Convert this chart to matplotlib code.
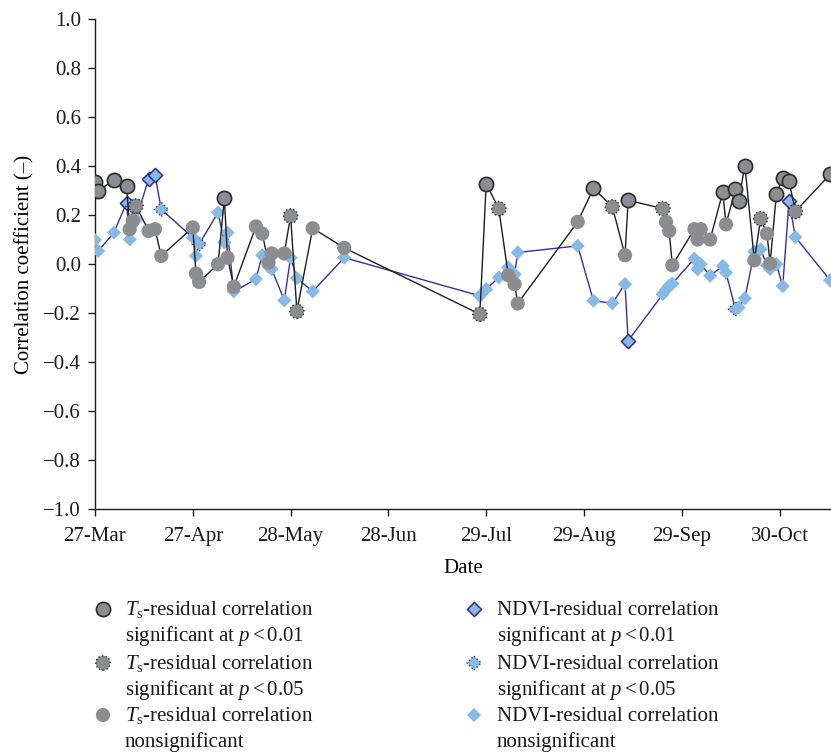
import numpy as np
import matplotlib
matplotlib.use("Agg")
import matplotlib.pyplot as plt
import matplotlib.dates as mdates
from matplotlib.ticker import FixedLocator, FuncFormatter

plt.rcParams["font.family"] = ["Liberation Serif", "DejaVu Serif"]
plt.rcParams["mathtext.fontset"] = "custom"
plt.rcParams["mathtext.rm"] = "Liberation Serif"
plt.rcParams["mathtext.it"] = "Liberation Serif:italic"

YEAR = 2015

# observation dates (month-day)
dates = [
    "03-27", "03-28", "04-02", "04-06", "04-07", "04-08", "04-09", "04-13", "04-15", "04-17",
    "04-27", "04-28", "04-29", "05-05", "05-07", "05-08", "05-10", "05-17", "05-19", "05-21",
    "05-22", "05-26", "05-28", "05-30", "06-04", "06-14", "07-27", "07-29", "08-02", "08-05",
    "08-07", "08-08", "08-27", "09-01", "09-07", "09-11", "09-12", "09-23", "09-24", "09-25",
    "09-26", "10-03", "10-04", "10-05", "10-08", "10-12", "10-13", "10-16", "10-17", "10-19",
    "10-22", "10-24", "10-26", "10-27", "10-29", "10-31", "11-02", "11-04", "11-15",
]

# Ts-residual correlation coefficients
ts_r = [
    0.335, 0.300, 0.341, 0.318, 0.142, 0.176, 0.237, 0.135, 0.142, 0.033,
    0.149, -0.039, -0.073, -0.001, 0.268, 0.026, -0.093, 0.153, 0.124, 0.006,
    0.043, 0.043, 0.196, -0.193, 0.146, 0.066, -0.205, 0.328, 0.226, -0.046,
    -0.082, -0.161, 0.172, 0.309, 0.233, 0.036, 0.260, 0.226, 0.172, 0.135,
    -0.005, 0.142, 0.100, 0.142, 0.100, 0.294, 0.162, 0.305, 0.257, 0.402,
    0.015, 0.185, 0.124, 0.002, 0.287, 0.350, 0.339, 0.214, 0.366,
]
# significance class: 2 -> p<0.01, 1 -> p<0.05, 0 -> nonsignificant
ts_sig = [
    2, 2, 2, 2, 0, 0, 1, 0, 0, 0,
    0, 0, 0, 0, 2, 0, 0, 0, 0, 0,
    0, 0, 1, 1, 0, 0, 1, 2, 1, 0,
    0, 0, 0, 2, 1, 0, 2, 1, 0, 0,
    0, 0, 0, 0, 0, 2, 0, 2, 2, 2,
    0, 1, 0, 0, 2, 2, 2, 1, 2,
]

# NDVI-residual correlation coefficients
ndvi_r = [
    0.098, 0.053, 0.128, 0.250, 0.100, 0.235, 0.180, 0.348, 0.365, 0.223,
    0.108, 0.033, 0.081, 0.210, 0.088, 0.128, -0.112, -0.062, 0.036, -0.010,
    -0.021, -0.148, 0.026, -0.058, -0.112, 0.026, -0.130, -0.103, -0.055, -0.014,
    -0.042, 0.047, 0.074, -0.150, -0.160, -0.082, -0.313, -0.123, -0.105, -0.089,
    -0.080, 0.022, -0.021, -0.001, -0.048, -0.008, -0.035, -0.184, -0.178, -0.140,
    0.050, 0.060, -0.005, -0.020, -0.001, -0.090, 0.257, 0.110, -0.066,
]
ndvi_sig = [
    0, 0, 0, 2, 0, 1, 0, 2, 2, 1,
    0, 0, 1, 0, 0, 0, 0, 0, 0, 0,
    0, 0, 0, 0, 0, 0, 0, 0, 0, 0,
    0, 0, 0, 0, 0, 0, 2, 0, 0, 0,
    0, 0, 0, 0, 0, 0, 0, 1, 0, 0,
    0, 0, 0, 0, 0, 0, 2, 0, 0,
]

tick_labels = ["27-Mar", "27-Apr", "28-May", "28-Jun", "29-Jul", "29-Aug", "29-Sep", "30-Oct"]

x = np.array([np.datetime64(f"{YEAR}-{d}") for d in dates])
xnum = mdates.date2num(x)
ts_r = np.array(ts_r)
ndvi_r = np.array(ndvi_r)
ts_sig = np.array(ts_sig)
ndvi_sig = np.array(ndvi_sig)

GREY = "#8c8d90"
DARK = "#2b2b2b"
BLUE = "#86b9e3"
NAVY = "#2e2a8c"
NAVY_LINE = "#3a2f9c"
FS = 15

# marker styles for the three significance classes of each series
ts_styles = {
    2: dict(marker="o", s=105, facecolor=GREY, edgecolor=DARK, linewidths=1.2),
    1: dict(marker="o", s=105, facecolor=GREY, edgecolor=DARK, linewidths=1.0, linestyle=":"),
    0: dict(marker="o", s=105, facecolor=GREY, edgecolor="none"),
}
nd_styles = {
    2: dict(marker="D", s=52, facecolor=BLUE, edgecolor=NAVY, linewidths=1.1),
    1: dict(marker="D", s=52, facecolor=BLUE, edgecolor=NAVY, linewidths=1.0, linestyle=":"),
    0: dict(marker="D", s=52, facecolor=BLUE, edgecolor="none"),
}

fig = plt.figure(figsize=(8.31, 7.55), dpi=100)
ax = fig.add_axes([95 / 831, 1 - 509 / 755, 1 - 95 / 831, (509 - 19) / 755])

# NDVI series
ax.plot(xnum, ndvi_r, color=NAVY_LINE, lw=1.0, zorder=2)
for k in (2, 1, 0):
    m = ndvi_sig == k
    ax.scatter(xnum[m], ndvi_r[m], zorder=3, **nd_styles[k])

# Ts series
ax.plot(xnum, ts_r, color="#1e1e1e", lw=1.0, zorder=4)
for k in (2, 1, 0):
    m = ts_sig == k
    ax.scatter(xnum[m], ts_r[m], zorder=5, **ts_styles[k])

start = mdates.date2num(np.datetime64(f"{YEAR}-03-27"))
ax.set_xlim(start, start + 233.3)
ax.set_ylim(-1.0, 1.0)
ax.xaxis.set_major_locator(FixedLocator(start + 31 * np.arange(len(tick_labels))))
ax.set_xticklabels(tick_labels)
ax.set_yticks(np.round(np.arange(-1.0, 1.01, 0.2), 1))
ax.yaxis.set_major_formatter(FuncFormatter(
    lambda v, p: f"{abs(v):.1f}" if abs(v) < 1e-9 else f"{v:.1f}".replace("-", "\u2212")))

for side in ("top", "right"):
    ax.spines[side].set_visible(False)
for side in ("left", "bottom"):
    ax.spines[side].set_linewidth(1.0)
    ax.spines[side].set_color("#1a1a1a")
ax.tick_params(direction="out", length=5, width=1.0, labelsize=FS, colors="#1a1a1a")
ax.tick_params(axis="x", pad=8)
ax.tick_params(axis="y", pad=5)
ax.set_xlabel("Date", fontsize=FS, labelpad=9)
ax.set_ylabel("Correlation coefficient (\u2013)", fontsize=FS, labelpad=6)

# key below the plot, laid out in pixel coordinates
lax = fig.add_axes([0, 0, 1, 1], zorder=-1)
lax.set_xlim(0, 831)
lax.set_ylim(755, 0)
lax.axis("off")

lab = "residual correlation"
ts_lines = [
    ("$T_{\\mathrm{s}}$-" + lab, "significant at $p < 0.01$"),
    ("$T_{\\mathrm{s}}$-" + lab, "significant at $p < 0.05$"),
    ("$T_{\\mathrm{s}}$-" + lab, "nonsignificant"),
]
nd_lines = [
    ("NDVI-" + lab, "significant at $p < 0.01$"),
    ("NDVI-" + lab, "significant at $p < 0.05$"),
    ("NDVI-" + lab, "nonsignificant"),
]
row_base = [615, 669, 721]
for col_x, text_x, styles, lines in ((103, 125, ts_styles, ts_lines),
                                     (474, 497, nd_styles, nd_lines)):
    for k, yb, (l1, l2) in zip((2, 1, 0), row_base, lines):
        lax.scatter([col_x], [yb - 6], clip_on=False, **styles[k])
        lax.text(text_x, yb, l1, fontsize=FS, va="baseline", ha="left", color="#1a1a1a")
        lax.text(text_x, yb + 26, l2, fontsize=FS, va="baseline", ha="left", color="#1a1a1a")

fig.savefig("out.png", dpi=100)
